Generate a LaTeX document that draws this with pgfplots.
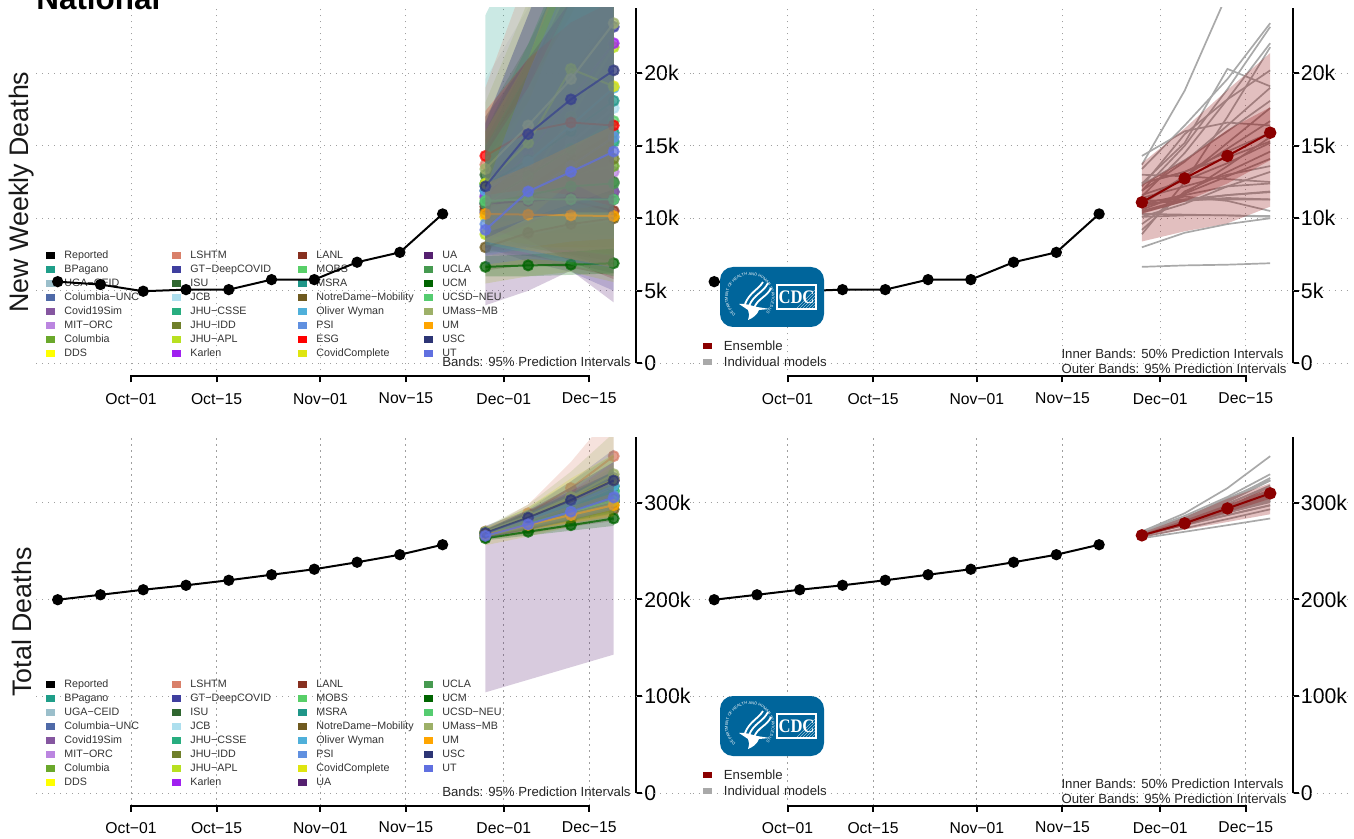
\documentclass[border=0pt]{standalone}
\usepackage{fontspec}
\setmainfont{Liberation Sans}
\newfontfamily\cdcfont{Liberation Serif}
\usepackage{pgfplots}
\pgfplotsset{compat=1.18}
\usetikzlibrary{decorations.text}
% ---------- colours
\definecolor{cBP}{HTML}{1F9E89}\definecolor{cUG}{HTML}{9BBFCB}\definecolor{cCU}{HTML}{4F6AA8}
\definecolor{cCS}{HTML}{8556A0}\definecolor{cMI}{HTML}{BB85E0}\definecolor{cCO}{HTML}{6AA82B}
\definecolor{cDD}{HTML}{FFFF00}\definecolor{cLS}{HTML}{D9806A}\definecolor{cGT}{HTML}{3F3F9F}
\definecolor{cIS}{HTML}{2F662F}\definecolor{cJC}{HTML}{ADDFEE}\definecolor{cJS}{HTML}{28AD7F}
\definecolor{cJI}{HTML}{6F7F2A}\definecolor{cJA}{HTML}{B8E020}\definecolor{cKA}{HTML}{A020F0}
\definecolor{cLA}{HTML}{873020}\definecolor{cMO}{HTML}{58CF68}\definecolor{cMS}{HTML}{1F9688}
\definecolor{cND}{HTML}{6F5A20}\definecolor{cOW}{HTML}{4FB0DA}\definecolor{cPS}{HTML}{6090E0}
\definecolor{cES}{HTML}{FF0000}\definecolor{cCC}{HTML}{DFE510}\definecolor{cUA}{HTML}{552070}
\definecolor{cUL}{HTML}{469A50}\definecolor{cUC}{HTML}{006400}\definecolor{cUN}{HTML}{55CC70}
\definecolor{cUM}{HTML}{9DB068}\definecolor{cOR}{HTML}{FFA500}\definecolor{cUS}{HTML}{2D3575}
\definecolor{cUT}{HTML}{6070E0}\definecolor{ens}{HTML}{8B0000}\definecolor{cdcb}{HTML}{00659B}
\definecolor{indiv}{HTML}{A9A9A9}
% ---------- plot helpers (forecast weeks are days 58, 65, 72, 79 after Oct-01)
\def\bandP#1|#2 #3 #4 #5|#6 #7 #8 #9|{\addplot[forget plot,draw=none,fill=#1,fill opacity=.23] coordinates {(58,#2)(65,#3)(72,#4)(79,#5)(79,#9)(72,#8)(65,#7)(58,#6)};}
\def\lineP#1|#2 #3 #4 #5|{\addplot[forget plot,color=#1,line width=1pt,opacity=.75,mark=*,mark size=2.5pt] coordinates {(58,#2)(65,#3)(72,#4)(79,#5)};}
\def\lineG#1 #2 #3 #4|{\addplot[forget plot,color=indiv,line width=.85pt] coordinates {(58,#1)(65,#2)(72,#3)(79,#4)};}
\newcommand\ModelFull[4]{\bandP#1|#3|#4|\lineP#1|#2|}
\newcommand\ModelGrey[4]{\lineG#2|}
\newcommand\LL[2]{\addlegendimage{fill=#1}\addlegendentry{#2}}
% ---------- weekly forecasts: colour, median, lower 95, upper 95
\newcommand\WeeklyModels{%
\M{cBP}{12.4 13.2 14.6 15.9}{7.8 7.4 7.2 6.6}{24 30 36 40}%
\M{cUG}{11.6 12.6 13.8 15.2}{8.5 8 7.8 7.5}{19.6 24.5 30 36}%
\M{cCU}{10.4 11.2 11.6 11.85}{7.5 7.4 6.9 6.2}{14.6 20 26 32}%
\M{cCS}{10.5 11.3 11.6 11.8}{8 8 7.5 7}{13.6 18 23 28}%
\M{cMI}{10.1 11 12.2 13.2}{7.6 8 8.2 8}{13.4 18 24 30}%
\M{cCO}{11.4 12.2 13 13.6}{8 8.1 8 7.5}{16 22 29 36}%
\M{cDD}{10.1 10.2 10.2 10.1}{8.6 8.2 7.8 7.5}{12 13.2 14.4 15.6}%
\M{cLS}{13.7 18.8 25.5 31}{10 12 13 14}{19 27 37 50}%
\M{cGT}{11.9 15 18.9 23.2}{8 7 6.3 5}{16.5 24 31 40}%
\M{cIS}{13 12.9 12.7 12.5}{9 8 7.4 6.6}{17 22 28 34}%
\M{cJC}{11 12.8 15.2 17.6}{8.4 8.8 9.4 9.8}{14 18 22.5 27}%
\M{cJS}{12.4 13.2 14.2 15.3}{9.2 9 9 8.8}{16 22 29 36}%
\M{cJI}{10.6 11.7 12.9 14.1}{7.7 8 8 8}{14.6 20 26 33}%
\M{cJA}{8.9 12.5 17 21.8}{5.5 6 6.3 5.6}{13 19 27 36}%
\M{cKA}{11.5 14.5 18.2 22.07}{8.4 9.6 11 12}{14.8 20 26 33}%
\M{cLA}{10.8 11.5 11.2 10.5}{9.3 8.5 7 5.8}{12.5 16 20 24}%
\M{cMO}{11.1 12.9 14.8 16.7}{8.4 9 9.5 10}{14.6 21 28 35}%
\M{cMS}{12.3 14 16 18.1}{9.6 10 10.8 11.5}{15.4 21 28 35}%
\M{cND}{8 9 9.6 10}{6.4 6.8 6.6 6}{10 12.2 14.2 16}%
\M{cOW}{11.9 13.9 16.4 19}{9 9.8 10.6 11}{15 19 24 30}%
\M{cPS}{9.6 11.7 13.6 15.6}{7.4 8 8.4 8.6}{12.2 18 25 32}%
\M{cES}{14.3 16 16.6 16.4}{11.6 12 11.6 10.8}{17.4 21 23.5 25}%
\M{cCC}{12.4 15.2 20.3 19.1}{9 10 12.5 11}{16 21 29 30}%
\M{cUA}{11 11.2 11.4 11.3}{4 5 6.4 4.2}{17 21 25 29}%
\M{cUL}{11 11.6 12.2 12.4}{7.6 7.8 7.8 7.4}{15 20 26 32}%
\M{cUC}{6.65 6.75 6.8 6.9}{6 6 6.1 6.2}{7.4 7.5 7.7 7.9}%
\M{cUN}{11.2 11.3 11.3 11.3}{8.2 7.6 6.8 6}{14.4 19 25 31}%
\M{cUM}{13.4 16.4 19.6 23.45}{9 10 11 12}{18 25 33 42}%
\M{cOR}{10.3 10.25 10.2 10.15}{8.4 7.8 7.2 6.6}{12.4 13.6 15 16.4}%
\M{cUS}{12.2 15.8 18.2 20.2}{8.6 10 10.4 10.4}{16.6 24 32 40}%
\M{cUT}{9.2 11.85 13.2 14.6}{6.8 7.2 7 6.6}{12 20 27 33}%
}
% ---------- total forecasts
\newcommand\TotalModels{%
\M{cBP}{268.9 282.1 296.7 312.6}{265 274 285 296}{275 295 322 350}%
\M{cUG}{268.1 280.7 294.5 309.7}{265 274 285 297}{272 290 312 336}%
\M{cCU}{266.9 278.1 289.7 301.6}{264 272 281 289}{270 285 300 317}%
\M{cCS}{267 278.3 289.9 301.7}{264.5 272 282 291}{269.5 283 297 312}%
\M{cMI}{266.6 277.6 289.8 303}{264 272 281 291}{269 283 298 315}%
\M{cCO}{267.9 280.1 293.1 306.7}{265 274 283 292}{271 287 305 325}%
\M{cDD}{266.6 276.8 287 297.1}{264.5 272 280 288}{268.5 281 294 307}%
\M{cLS}{270.2 289 315 348}{267 281 298 318}{273 298 342 395}%
\M{cGT}{268.4 283.4 302.3 325.5}{265 274 287 303}{272 293 322 355}%
\M{cIS}{269.5 282.4 295.1 307.6}{266 275 284 292}{273 291 310 330}%
\M{cJC}{267.5 280.3 295.5 313.1}{265 275 286 298}{270 286 306 330}%
\M{cJS}{268.9 282.1 296.3 311.6}{266 276 287 298}{272 290 310 332}%
\M{cJI}{267.1 278.8 291.7 305.8}{264.5 273 283 293}{270 285 301 320}%
\M{cJA}{265.4 277.9 294.9 316.7}{262 271 284 300}{269 286 310 340}%
\M{cKA}{268 282.5 300.7 322.8}{265.5 277 291 307}{270.5 288 312 342}%
\M{cLA}{267.3 278.8 290 300.5}{265 273 281 289}{269.5 284 299 313}%
\M{cMO}{267.6 280.5 295.3 312}{265 275 286 298}{270 286 305 327}%
\M{cMS}{268.8 282.8 298.8 316.9}{266 277 289 303}{271.5 289 309 333}%
\M{cND}{264.5 273.5 283.1 293.1}{262 268 275 281}{267 279 292 306}%
\M{cOW}{268.4 282.3 298.7 317.7}{265.5 276 289 304}{271 289 309 333}%
\M{cPS}{266.1 277.8 291.4 307}{263.5 272 282 293}{268.5 284 302 322}%
\M{cCC}{268.9 284.1 304.4 323.5}{256 265 275 285}{274 295 325 350}%
\M{cUA}{267.5 278.7 290.1 301.4}{104 117 130 143}{276 292 312 332}%
\M{cUL}{267.5 279.1 291.3 303.7}{265 273 282 290}{270 285 301 319}%
\M{cUC}{263.2 269.9 276.7 283.6}{261 266 271 276}{265 274 283 292}%
\M{cUN}{267.7 279 290.3 301.6}{265 273 281 289}{270.5 285 300 315}%
\M{cUM}{269.9 286.3 305.9 329.35}{266.5 280 296 315}{275 298 332 372}%
\M{cOR}{266.8 277 287.2 297.4}{264.5 272 279 286}{269 282 296 310}%
\M{cUS}{268.7 284.5 302.7 322.9}{265.5 277 291 305}{272 292 316 342}%
\M{cUT}{265.7 277.5 290.7 305.3}{263 272 282 293}{268.5 284 300 318}%
}
% ---------- axis styles
\pgfplotsset{
 panel/.style={scale only axis,width=300pt,height=184.25pt,anchor=south west,
  xmin=-15.55,xmax=82.65,clip mode=individual,
  axis x line=bottom,axis y line=right,axis line style={draw=none,-},
  xtick={0,14,31,45,61,75},
  xticklabels={Oct−01,Oct−15,Nov−01,Nov−15,Dec−01,Dec−15},
  tick style={black,line width=1pt},tick align=outside,major tick length=3pt,
  x tick label style={font=\fontsize{7.85}{9}\selectfont,yshift=-4.1pt,inner sep=1pt},
  y tick label style={font=\fontsize{10.65}{12}\selectfont,xshift=0pt,inner sep=1pt},
  grid=major,grid style={gray!75,line width=.5pt,dash pattern=on .55pt off 2.45pt},
  legend image code/.code={\fill[##1,draw=none] (0pt,-1.65pt) rectangle (4.5pt,1.65pt);},
 },
 weekly/.style={panel,ymin=-.91,ymax=24.5,ytick={0,5,10,15,20},yticklabels={0,5k,10k,15k,20k}},
 total/.style={panel,ymin=-12.9,ymax=367.8,ytick={0,100,200,300},yticklabels={0,100k,200k,300k}},
 overlay/.style={scale only axis,width=300pt,height=184.25pt,anchor=south west,
  xmin=-15.55,xmax=82.65,hide axis,clip=false},
 biglegend/.style={legend columns=4,
  legend style={draw=none,fill=none,at={(0.0167,.3436)},anchor=north west,inner sep=0pt,
   row sep=2pt,
   nodes={font=\fontsize{5.35}{6}\selectfont,inner sep=0pt,text height=4pt,text depth=1pt,text width=54pt,align=left,text=black!80},
   /tikz/every odd column/.append style={column sep=4.5pt}}},
 smalllegend/.style={legend columns=1,
  legend style={draw=none,fill=none,at={(.0167,.061)},anchor=west,inner sep=0pt,
   row sep=2.7pt,
   nodes={font=\fontsize{6.6}{7}\selectfont,inner sep=0pt,text height=4.8pt,text depth=.5pt,text width=60pt,align=left,text=black!85},
   /tikz/every odd column/.append style={column sep=6pt}}},
}
\newcommand\Spines[3]{% low end of the right spine, top, y of the x axis
 \draw[black,line width=1pt] (axis cs:82.65,#1)--(axis cs:82.65,#2);
 \draw[black,line width=1pt,line cap=rect] (axis cs:0,#3)--(axis cs:75,#3);
}
\newcommand\GridExt[1]{\pgfplotsinvokeforeach{#1}{\draw[gray!75,line width=.5pt,dash pattern=on .55pt off 2.45pt] (axis cs:82.65,##1)--(axis cs:91.8,##1);}}
\newcommand\CDClogo{%
 \fill[cdcb,rounded corners=6.5pt] (720,267) rectangle (824,327);
 \begin{scope}[white]
  \path[decorate,decoration={text along path,text align=center,
    text={|\fontsize{2}{2}\selectfont\color{white}|DEPARTMENT OF HEALTH AND HUMAN SERVICES USA}}]
    (733.5,312) arc[start angle=222,end angle=-42,radius=11pt];
  \draw[line width=.9pt] (768,283) .. controls (763,293) and (754,294) .. (749,306);
  \draw[line width=.9pt] (763,282) .. controls (758,290) and (750,292) .. (745,304);
  \draw[line width=.9pt] (771,288) .. controls (767,297) and (758,298) .. (754,308);
  \fill (739,304) .. controls (746,303) and (752,306) .. (757,307) -- (770,309) -- (759,310)
     .. controls (757,315) and (753,318) .. (748,320) .. controls (749,316) and (750,313) .. (748,310) .. controls (745,308) and (742,306) .. (739,304);
  \draw[line width=.7pt] (777,285) rectangle (816,309);
  \foreach \d in {0,3,...,18}{\draw[line width=.15pt] (796+\d,309)--(816,309-20+\d);}
  \node[font=\cdcfont\bfseries\fontsize{8.3}{9}\selectfont,text=white,inner sep=0pt,yscale=1.15] at (796.5,297) {CDC};
 \end{scope}
}
\begin{document}
\begin{tikzpicture}[x=.5pt,y=-.5pt]
\path[use as bounding box] (0,0) rectangle (1354,839);
\clip (0,0) rectangle (1354,839);
\node[anchor=base west,inner sep=0pt,font=\bfseries\fontsize{15.7}{16}\selectfont] at (36,10) {National};
% ===== top left
\begin{axis}[weekly,biglegend,at={(18pt,-188.25pt)}]
\let\M\ModelFull
\WeeklyModels
\Spines{0}{24.5}{-.91}
\GridExt{0,5,10,15,20}
\LL{black}{Reported}\LL{cLS}{LSHTM}\LL{cLA}{LANL}\LL{cUA}{UA}
\LL{cBP}{BPagano}\LL{cGT}{GT−DeepCOVID}\LL{cMO}{MOBS}\LL{cUL}{UCLA}
\LL{cUG}{UGA−CEID}\LL{cIS}{ISU}\LL{cMS}{MSRA}\LL{cUC}{UCM}
\LL{cCU}{Columbia−UNC}\LL{cJC}{JCB}\LL{cND}{NotreDame−Mobility}\LL{cUN}{UCSD−NEU}
\LL{cCS}{Covid19Sim}\LL{cJS}{JHU−CSSE}\LL{cOW}{Oliver Wyman}\LL{cUM}{UMass−MB}
\LL{cMI}{MIT−ORC}\LL{cJI}{JHU−IDD}\LL{cPS}{PSI}\LL{cOR}{UM}
\LL{cCO}{Columbia}\LL{cJA}{JHU−APL}\LL{cES}{ESG}\LL{cUS}{USC}
\LL{cDD}{DDS}\LL{cKA}{Karlen}\LL{cCC}{CovidComplete}\LL{cUT}{UT}
\end{axis}
\begin{axis}[overlay,ymin=-.91,ymax=24.5,at={(18pt,-188.25pt)}]
\addplot[black,line width=1pt,mark=*,mark size=2.3pt] coordinates {(-12,5.63)(-5,5.43)(2,4.97)(9,5.08)(16,5.08)(23,5.77)(30,5.77)(37,6.97)(44,7.65)(51,10.3)};
\end{axis}
\node[anchor=east,inner sep=0pt,font=\fontsize{6.6}{7}\selectfont,text=black!85] at (631,362) {Bands: 95\% Prediction Intervals};
\node[rotate=90,inner sep=0pt,font=\fontsize{13.4}{15}\selectfont,text=black!90] at (22,192) {New Weekly Deaths};
% ===== top right
\begin{axis}[weekly,smalllegend,at={(346.25pt,-188.25pt)}]
\let\M\ModelGrey
\WeeklyModels
\addplot[forget plot,draw=none,fill=ens,fill opacity=.25] coordinates {(58,8.4)(65,9.1)(72,9.65)(79,10.8)(79,21.4)(72,18.85)(65,16.2)(58,13.8)};
\addplot[forget plot,draw=none,fill=ens,fill opacity=.25] coordinates {(58,10.3)(65,11.15)(72,12.4)(79,14)(79,17.65)(72,16.1)(65,14)(58,12.3)};
\addplot[forget plot,color=ens,line width=1pt,mark=*,mark size=2.6pt] coordinates {(58,11.1)(65,12.75)(72,14.3)(79,15.9)};
\addplot[forget plot,black,line width=1pt,mark=*,mark size=2.3pt] coordinates {(-12,5.63)(-5,5.43)(2,4.97)(9,5.08)(16,5.08)(23,5.77)(30,5.77)(37,6.97)(44,7.65)(51,10.3)};
\Spines{0}{24.5}{-.91}
\GridExt{0,5,10,15,20}
\LL{ens}{Ensemble}\LL{indiv}{Individual models}
\end{axis}
\CDClogo
\node[anchor=east,inner sep=0pt,font=\fontsize{6.6}{7}\selectfont,text=black!85] at (1284,354) {Inner Bands: 50\% Prediction Intervals};
\node[anchor=east,inner sep=0pt,font=\fontsize{6.6}{7}\selectfont,text=black!85] at (1287,369) {Outer Bands: 95\% Prediction Intervals};
% ===== bottom left
\begin{axis}[total,biglegend,at={(18pt,-402.75pt)}]
\let\M\ModelFull
\TotalModels
\Spines{0}{367.8}{-12.9}
\GridExt{0,100,200,300}
\LL{black}{Reported}\LL{cLS}{LSHTM}\LL{cLA}{LANL}\LL{cUL}{UCLA}
\LL{cBP}{BPagano}\LL{cGT}{GT−DeepCOVID}\LL{cMO}{MOBS}\LL{cUC}{UCM}
\LL{cUG}{UGA−CEID}\LL{cIS}{ISU}\LL{cMS}{MSRA}\LL{cUN}{UCSD−NEU}
\LL{cCU}{Columbia−UNC}\LL{cJC}{JCB}\LL{cND}{NotreDame−Mobility}\LL{cUM}{UMass−MB}
\LL{cCS}{Covid19Sim}\LL{cJS}{JHU−CSSE}\LL{cOW}{Oliver Wyman}\LL{cOR}{UM}
\LL{cMI}{MIT−ORC}\LL{cJI}{JHU−IDD}\LL{cPS}{PSI}\LL{cUS}{USC}
\LL{cCO}{Columbia}\LL{cJA}{JHU−APL}\LL{cCC}{CovidComplete}\LL{cUT}{UT}
\LL{cDD}{DDS}\LL{cKA}{Karlen}\LL{cUA}{UA}
\addplot[forget plot,black,line width=1pt,mark=*,mark size=2.3pt] coordinates {(-12,199.7)(-5,204.8)(2,210)(9,214.6)(16,219.8)(23,225.5)(30,231.2)(37,238.4)(44,246.2)(51,256.5)};
\end{axis}
\node[anchor=east,inner sep=0pt,font=\fontsize{6.6}{7}\selectfont,text=black!85] at (631,792) {Bands: 95\% Prediction Intervals};
\node[rotate=90,inner sep=0pt,font=\fontsize{13.4}{15}\selectfont,text=black!90] at (22,622) {Total Deaths};
% ===== bottom right
\begin{axis}[total,smalllegend,at={(346.25pt,-402.75pt)}]
\let\M\ModelGrey
\TotalModels
\addplot[forget plot,draw=none,fill=ens,fill opacity=.25] coordinates {(58,264)(65,272)(72,280)(79,288)(79,320)(72,304)(65,285)(58,269)};
\addplot[forget plot,draw=none,fill=ens,fill opacity=.25] coordinates {(58,265.5)(65,276)(72,290)(79,304)(79,315)(72,298)(65,282)(58,267.5)};
\addplot[forget plot,color=ens,line width=1pt,mark=*,mark size=2.6pt] coordinates {(58,266.2)(65,278.6)(72,294)(79,309.6)};
\addplot[forget plot,black,line width=1pt,mark=*,mark size=2.3pt] coordinates {(-12,199.7)(-5,204.8)(2,210)(9,214.6)(16,219.8)(23,225.5)(30,231.2)(37,238.4)(44,246.2)(51,256.5)};
\Spines{0}{367.8}{-12.9}
\GridExt{0,100,200,300}
\LL{ens}{Ensemble}\LL{indiv}{Individual models}
\end{axis}
\begin{scope}[yshift=-214.5pt]\CDClogo\end{scope}
\node[anchor=east,inner sep=0pt,font=\fontsize{6.6}{7}\selectfont,text=black!85] at (1284,784) {Inner Bands: 50\% Prediction Intervals};
\node[anchor=east,inner sep=0pt,font=\fontsize{6.6}{7}\selectfont,text=black!85] at (1287,799) {Outer Bands: 95\% Prediction Intervals};
\end{tikzpicture}
\end{document}
